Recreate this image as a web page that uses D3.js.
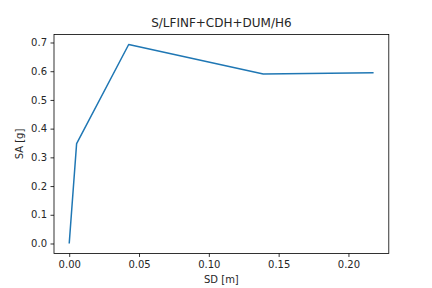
<!DOCTYPE html>
<html>
<head>
<meta charset="utf-8">
<script src="https://cdn.jsdelivr.net/npm/d3@7"></script>
<style>
  body { margin: 0; background: #fff; }
  text { font-family: "DejaVu Sans", sans-serif; fill: #262626; }
</style>
</head>
<body>
<div id="chart"></div>
<script>
// Kurva kapasitas SD-SA
const sdValues = [0, 0.0053, 0.0426, 0.139, 0.218];
const saValues = [0, 0.348, 0.693, 0.590, 0.595];
const xTicks = [0, 0.05, 0.10, 0.15, 0.20];
const yTicks = [0, 0.1, 0.2, 0.3, 0.4, 0.5, 0.6, 0.7];
const title = "S/LFINF+CDH+DUM/H6";

const W = 432, H = 288;
const margin = { top: 34.56, right: 43.2, bottom: 34.56, left: 54 };
const width = W - margin.left - margin.right;
const height = H - margin.top - margin.bottom;

const data = sdValues.map((d, i) => ({ sd: d, sa: saValues[i] }));

const xMax = d3.max(sdValues), yMax = d3.max(saValues);
const x = d3.scaleLinear().domain([-0.05 * xMax, 1.05 * xMax]).range([0, width]);
const y = d3.scaleLinear().domain([-0.05 * yMax, 1.05 * yMax]).range([height, 0]);

const svg = d3.select("#chart").append("svg").attr("width", W).attr("height", H);
const g = svg.append("g").attr("transform", `translate(${margin.left},${margin.top})`);

const xAxis = g.append("g").attr("transform", `translate(0,${height})`)
  .call(d3.axisBottom(x).tickValues(xTicks).tickFormat(d3.format(".2f")).tickSize(3.5).tickPadding(3.5));
const yAxis = g.append("g")
  .call(d3.axisLeft(y).tickValues(yTicks).tickFormat(d3.format(".1f")).tickSize(3.5).tickPadding(3.5));

[xAxis, yAxis].forEach(a => {
  a.select(".domain").remove();
  a.selectAll("line").attr("stroke", "#000").attr("stroke-width", 0.8);
  a.selectAll("text").attr("font-size", 10).attr("fill", "#262626").style("font-family", "DejaVu Sans");
});

g.append("path")
  .datum(data)
  .attr("fill", "none")
  .attr("stroke", "#1f77b4")
  .attr("stroke-width", 1.5)
  .attr("stroke-linejoin", "round")
  .attr("d", d3.line().x(d => x(d.sd)).y(d => y(d.sa)));

g.append("rect")
  .attr("width", width).attr("height", height)
  .attr("fill", "none").attr("stroke", "#000").attr("stroke-width", 0.8);

svg.append("text")
  .attr("x", margin.left + width / 2).attr("y", margin.top - 8)
  .attr("text-anchor", "middle").attr("font-size", 12)
  .text(title);

svg.append("text")
  .attr("x", margin.left + width / 2).attr("y", H - 5.5)
  .attr("text-anchor", "middle").attr("font-size", 10)
  .text("SD [m]");

svg.append("text")
  .attr("transform", "rotate(-90)")
  .attr("x", -(margin.top + height / 2)).attr("y", 23)
  .attr("text-anchor", "middle").attr("font-size", 10)
  .text("SA [g]");
</script>
</body>
</html>
